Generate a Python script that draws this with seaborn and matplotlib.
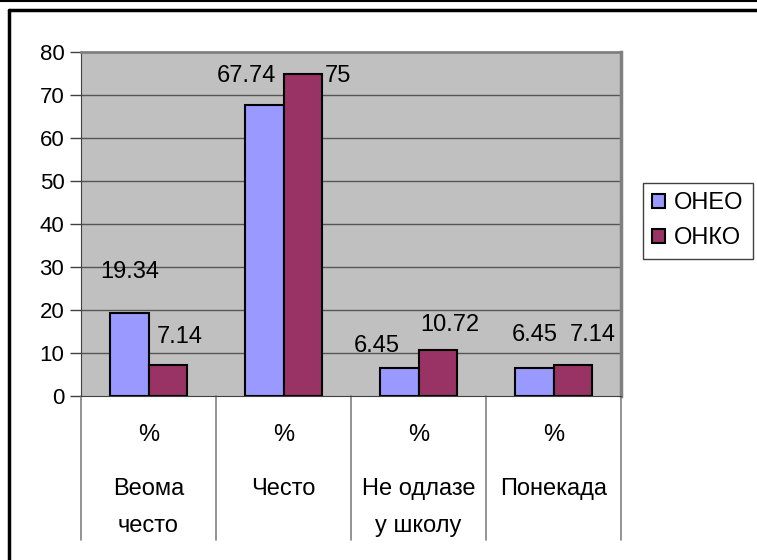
import pandas as pd
import seaborn as sns
import matplotlib.pyplot as plt
from matplotlib.lines import Line2D
from matplotlib.transforms import blended_transform_factory

categories = ['Веома\nчесто', 'Често', 'Не одлазе\nу школу', 'Понекада']
series = ['ОНЕО', 'ОНКО']
oneo = [19.34, 67.74, 6.45, 6.45]
onko = [7.14, 75, 10.72, 7.14]
yticks = [0, 10, 20, 30, 40, 50, 60, 70, 80]

# label offsets in pixels (dx, dy) so labels sit like the original
off_oneo = [(0, 35), (-18, 23), (-23, 16), (0, 27)]
off_onko = [(12, 22), (35, -9), (12, 19), (20, 24)]

df = pd.DataFrame({
    'cat': categories * 2,
    'series': [series[0]] * 4 + [series[1]] * 4,
    'value': oneo + onko,
})

sns.set_style('white')
plt.rcParams['font.family'] = ['Liberation Sans', 'DejaVu Sans']
plt.rcParams['text.color'] = 'black'
plt.rcParams['ytick.labelcolor'] = 'black'
fs = 17

fig = plt.figure(figsize=(7.57, 5.6), dpi=100)
ax = fig.add_axes([81 / 757, 1 - 396 / 560, 540 / 757, 344 / 560])
ax.set_facecolor('#C0C0C0')

sns.barplot(data=df, x='cat', y='value', hue='series', order=categories,
            hue_order=series, palette=['#9999FF', '#993366'], width=0.57,
            edgecolor='black', linewidth=1.5, saturation=1, ax=ax, zorder=3)

ax.set_xlim(-0.5, 3.5)
ax.set_ylim(0, 80)
ax.set_yticks(yticks)
ax.set_yticklabels([str(t) for t in yticks], fontsize=16, color='black')
ax.tick_params(axis='y', direction='out', length=8, width=1, color='#404040', pad=4, left=True)
ax.set_xticks([])
ax.set_xlabel('')
ax.set_ylabel('')
for y in yticks[1:-1]:
    ax.axhline(y, color='#555555', linewidth=1, zorder=1)

ax.spines['left'].set_color('#404040')
ax.spines['bottom'].set_color('#404040')
ax.spines['top'].set_color('#808080')
ax.spines['right'].set_color('#808080')
ax.spines['top'].set_linewidth(2)
ax.spines['right'].set_linewidth(2.5)

# data labels
bars = ax.patches
n = len(categories)
for i, b in enumerate(bars[:2 * n]):
    val = b.get_height()
    dx, dy = off_oneo[i] if i < n else off_onko[i - n]
    ax.annotate(f'{val:g}', (b.get_x() + b.get_width() / 2, val), xytext=(dx, dy),
                textcoords='offset pixels', ha='center', va='baseline', fontsize=fs,
                color='black', zorder=4)

# category labels below axis
tr = blended_transform_factory(ax.transData, ax.transAxes)
for i, c in enumerate(categories):
    ax.text(i, -45 / 344, '%', transform=tr, ha='center', va='baseline', fontsize=fs, color='black')
    for k, line in enumerate(c.split('\n')):
        ax.text(i, -(99 + 37 * k) / 344, line, transform=tr, ha='center', va='baseline',
                fontsize=fs, color='black')
for x in [-0.5, 0.5, 1.5, 2.5, 3.5]:
    ax.plot([x, x], [0, -144 / 344], transform=tr, color='#808080', linewidth=1.2, clip_on=False)

leg = ax.legend(handles=ax.get_legend_handles_labels()[0], labels=series,
                loc='upper left', bbox_to_anchor=(643 / 757, 1 - 183 / 560), bbox_transform=fig.transFigure,
                fontsize=fs, frameon=True, fancybox=False, edgecolor='#404040', framealpha=1,
                handlelength=0.55, handleheight=0.55, handletextpad=0.35, labelspacing=0.55,
                borderpad=0.4, borderaxespad=0)
leg.get_frame().set_linewidth(1)
for t in leg.get_texts():
    t.set_color('black')

# chart border (clipped like the original)
fig.add_artist(Line2D([0, 1], [0.999, 0.999], color='black', linewidth=1.5))
fig.add_artist(Line2D([9 / 757, 1], [1 - 10 / 560, 1 - 10 / 560], color='black', linewidth=2.5))
fig.add_artist(Line2D([9 / 757, 9 / 757], [0, 1 - 10 / 560], color='black', linewidth=2.5))

fig.savefig('out.png', dpi=100)
